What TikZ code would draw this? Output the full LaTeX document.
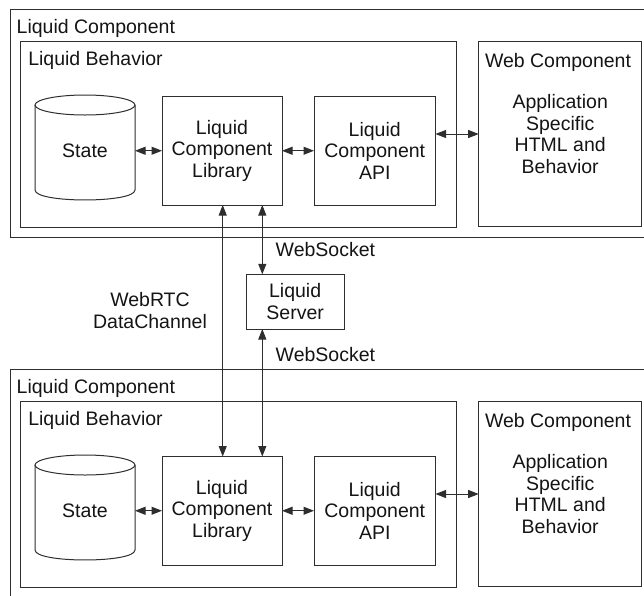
\documentclass[tikz,border=0pt]{standalone}
\usepackage{fontspec}
\setmainfont{Liberation Sans}
\usetikzlibrary{arrows.meta}
\begin{document}
\begin{tikzpicture}[x=1pt,y=-1pt,
  every node/.style={font=\fontsize{19.5}{21.5}\selectfont, text=black!92, inner sep=0pt, outer sep=0pt},
  ln/.style={draw=black!82, line width=1pt},
  boxwh/.style 2 args={ln, rectangle, minimum width=#1, minimum height=#2},
  arr/.style={ln, {Triangle[length=10.5pt,width=8pt]}-{Triangle[length=10.5pt,width=8pt]}},
  tiparr/.style={ln, -{Triangle[length=10.5pt,width=8pt]}}
]
\useasboundingbox (0,0) rectangle (644,595);
\clip (0,0) rectangle (644,595);

\foreach \i/\dy in {1/0,2/360}{
  \begin{scope}[shift={(0,\dy)}]
    % outer Liquid Component box (runs past the right and bottom edges)
    \node[boxwh={650}{228}] (out\i) at (335,123.3) {};
    \node[anchor=base west] (outlbl\i) at (16.7,33.3) {Liquid Component};
    % Liquid Behavior
    \node[boxwh={436}{185.3}] (lb\i) at (238.7,134.35) {};
    \node[anchor=base west] (lblbl\i) at (28.3,65.7) {Liquid Behavior};
    % Web Component
    \node[boxwh={163}{185}, align=center] (wc\i) at (560.2,134.2) {Application\\Specific\\HTML and\\Behavior};
    \node[anchor=base west] (wclbl\i) at (485,67.5) {Web Component};
    % State cylinder
    \draw[ln] (35,105) -- (35,190) .. controls (35,203.3) and (135,203.3) .. (135,190) -- (135,105);
    \draw[ln] (85,105) ellipse [x radius=50, y radius=10];
    \node[minimum width=100, minimum height=105] (st\i) at (85,150.75) {\raisebox{-3.5pt}{State}};
    % Library and API
    \node[boxwh={120}{108.5}, align=center] (lib\i) at (222,150.75) {Liquid\\Component\\Library};
    \node[boxwh={121.5}{108.5}, align=center] (api\i) at (374.75,150.75) {Liquid\\Component\\API};
    \coordinate (awy\i) at (0,134);
    % connectors inside
    \draw[arr] (st\i.east) -- (lib\i.west);
    \draw[arr] (lib\i.east) -- (api\i.west);
    \draw[arr] (api\i.east |- awy\i) -- (wc\i.west |- awy\i);
  \end{scope}
}

% Liquid Server
\node[boxwh={98.3}{54.7}, align=center] (srv) at (295.15,301.65) {Liquid\\Server};

% vertical connectors
\coordinate (lx1) at ([xshift=0.7pt]lib1.south);
\coordinate (lx2) at ([xshift=0.7pt]lib2.north);
\draw[arr] (lx1) -- (lx2);
\coordinate (rx1) at ([xshift=40.3pt]lib1.south);
\coordinate (rx2) at ([xshift=40.3pt]lib2.north);
\draw[arr] (rx1) -- (rx1 |- srv.north);
\draw[arr] (rx2 |- srv.south) -- (rx2);

% labels
\node[anchor=base west] (wslbl1) at (275.7,256) {WebSocket};
\node[anchor=base west] (wslbl2) at (275.7,361.7) {WebSocket};
\node[align=center] (rtc) at (150,310.5) {WebRTC\\DataChannel};
\end{tikzpicture}
\end{document}
